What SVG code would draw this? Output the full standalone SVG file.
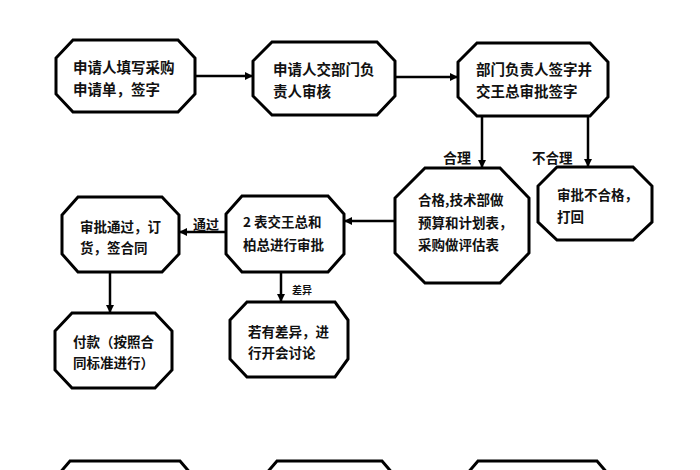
<svg xmlns="http://www.w3.org/2000/svg" width="700" height="470" viewBox="0 0 700 470">
<defs>
<marker id="ah" viewBox="0 0 10 10" refX="10" refY="5" markerWidth="8" markerHeight="8" markerUnits="userSpaceOnUse" orient="auto">
<path d="M0,0 L10,5 L0,10 z" fill="#000"/>
</marker>
<style>
.n{fill:#fff;stroke:#000;stroke-width:3;stroke-linejoin:miter}
.t{font-family:"Noto Sans CJK SC","Noto Sans",sans-serif;font-weight:700;fill:#111;font-size:14.5px}
.s{font-size:13.5px}
.c{fill:none;stroke:#000;stroke-width:2.5;marker-end:url(#ah)}
.l{font-family:"Noto Sans CJK SC","Noto Sans",sans-serif;font-weight:700;fill:#111}
</style>
</defs>
<rect width="700" height="470" fill="#fff"/>
<g id="connectors">
<line class="c" x1="195" y1="76" x2="253" y2="76"/>
<line class="c" x1="395" y1="77" x2="458" y2="77"/>
<line class="c" x1="482" y1="116" x2="482" y2="168"/>
<line class="c" x1="588" y1="116" x2="588" y2="167"/>
<line class="c" x1="395" y1="221" x2="344" y2="221"/>
<line class="c" x1="226" y1="232" x2="179" y2="232"/>
<line class="c" x1="110" y1="272" x2="110" y2="313"/>
<line class="c" x1="281" y1="272" x2="281" y2="302"/>
<text class="l" x="443" y="163" font-size="14">合理</text>
<text class="l" x="532" y="163" font-size="13.5">不合理</text>
<text class="l" x="193" y="229" font-size="13">通过</text>
<text class="l" x="292" y="294" font-size="10">差异</text>
</g>
<g id="n1">
<polygon class="n" points="73,40 178,40 195,58 195,94 178,112 73,112 56,94 56,58"/>
<text class="t" x="73" y="73">申请人填写采购</text>
<text class="t" x="73" y="95">申请单，签字</text>
</g>
<g id="n2">
<polygon class="n" points="272,42 377,42 395,61 395,96 377,115 272,115 253,96 253,61"/>
<text class="t" x="273" y="75">申请人交部门负</text>
<text class="t" x="273" y="97">责人审核</text>
</g>
<g id="n3">
<polygon class="n" points="477,43 590,43 608,62 608,97 590,116 477,116 458,97 458,62"/>
<text class="t" x="476" y="75" font-size="14">部门负责人签字并</text>
<text class="t" x="476" y="97" font-size="14">交王总审批签字</text>
</g>
<g id="n4">
<polygon class="n" points="425,168 500,168 529,198 529,253 500,283 425,283 395,253 395,198"/>
<text class="t s" x="418" y="205">合格,技术部做</text>
<text class="t s" x="418" y="228">预算和计划表，</text>
<text class="t s" x="418" y="250">采购做评估表</text>
</g>
<g id="n5">
<polygon class="n" points="557,167 633,167 652,186 652,222 633,240 557,240 538,222 538,186"/>
<text class="t s" x="557" y="200">审批不合格，</text>
<text class="t s" x="557" y="222">打回</text>
</g>
<g id="n6">
<polygon class="n" points="242,196 328,196 344,214 344,254 328,272 242,272 226,254 226,214"/>
<text class="t s" x="243" y="227">2 表交王总和</text>
<text class="t s" x="243" y="250">柏总进行审批</text>
</g>
<g id="n7">
<polygon class="n" points="78,197 162,197 179,215 179,254 162,272 78,272 62,254 62,215"/>
<text class="t s" x="80" y="232">审批通过，订</text>
<text class="t s" x="80" y="253">货，签合同</text>
</g>
<g id="n8">
<polygon class="n" points="72,313 155,313 172,331 172,370 155,388 72,388 55,370 55,331"/>
<text class="t s" x="73" y="347">付款（按照合</text>
<text class="t s" x="73" y="368">同标准进行）</text>
</g>
<g id="n9">
<polygon class="n" points="247,302 335,302 348,320 348,359 335,377 247,377 230,359 230,320"/>
<text class="t s" x="248" y="337">若有差异，进</text>
<text class="t s" x="248" y="358">行开会讨论</text>
</g>
<g id="n10">
<polygon class="n" points="70,461 180,461 192,475 192,500 58,500 58,475"/>
</g>
<g id="n11">
<polygon class="n" points="277,461 382,461 394,475 394,500 265,500 265,475"/>
</g>
<g id="n12">
<polygon class="n" points="478,461 597,461 609,475 609,500 466,500 466,475"/>
</g>
</svg>
